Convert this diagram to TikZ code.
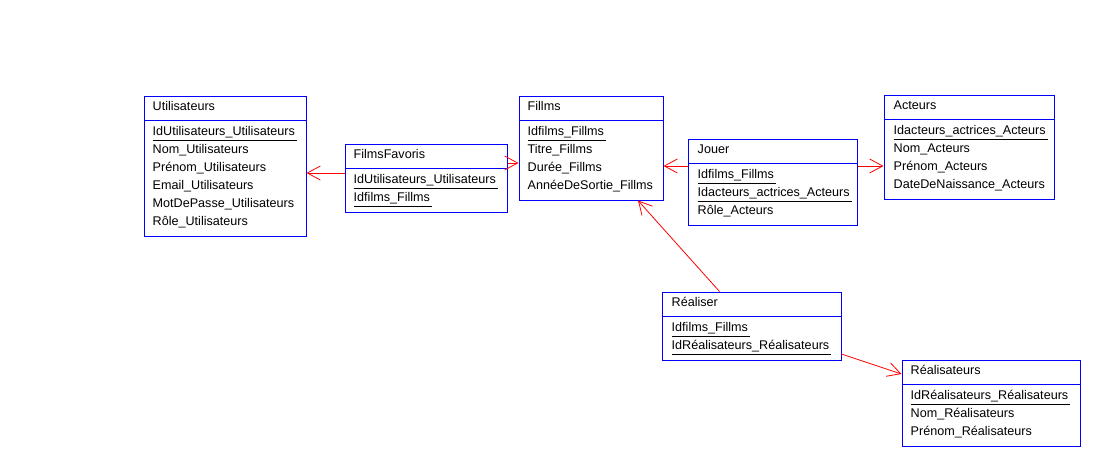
\documentclass[tikz,border=0pt]{standalone}
\usepackage{fontspec}
\setmainfont{Liberation Sans}
\usetikzlibrary{arrows.meta}
\definecolor{bleu}{HTML}{0000FF}
\definecolor{rouge}{HTML}{FF0000}
% cle primaire soulignee
\newcommand\cle[1]{\setbox0\hbox{#1}\rlap{\rule[-5pt]{\dimexpr\wd0+2pt\relax}{0.8pt}}\box0}
\tikzset{
  entite/.style={draw, color=bleu, line width=1pt, anchor=north west, inner sep=0pt},
  separ/.style={draw=bleu, line width=1pt},
  titre/.style={anchor=base west, inner sep=0pt, font=\fontsize{12.6}{15}\selectfont},
  attribut/.style={anchor=base west, inner sep=0pt, font=\fontsize{12.6}{15}\selectfont},
  lien/.style={-{Straight Barb[length=13pt,width=14pt]}, draw=rouge, line width=0.8pt},
}
\begin{document}
\begin{tikzpicture}[x=1pt, y=-1pt]
  \useasboundingbox[fill=white] (0,0) rectangle (1109,475);

  % Utilisateurs
  \node[entite, minimum width=162pt, minimum height=140pt] (util) at (143.5,95.5) {};
  \draw[separ] ([yshift=-25pt]util.north west) -- ([yshift=-25pt]util.north east);
  \node[titre] (util-titre) at ([xshift=9pt,yshift=-15pt]util.north west) {Utilisateurs};
  \foreach \a [count=\i] in {\cle{IdUtilisateurs\_Utilisateurs}, Nom\_Utilisateurs,
      Prénom\_Utilisateurs, Email\_Utilisateurs, MotDePasse\_Utilisateurs, Rôle\_Utilisateurs}
    \node[attribut] (util-\i) at ([xshift=9pt,yshift=-22pt-18pt*\i]util.north west) {\a};

  % FilmsFavoris
  \node[entite, minimum width=162pt, minimum height=68pt] (ff) at (344.5,143.5) {};
  \draw[separ] ([yshift=-25pt]ff.north west) -- ([yshift=-25pt]ff.north east);
  \node[titre] (ff-titre) at ([xshift=9pt,yshift=-15pt]ff.north west) {FilmsFavoris};
  \foreach \a [count=\i] in {\cle{IdUtilisateurs\_Utilisateurs}, \cle{Idfilms\_Fillms}}
    \node[attribut] (ff-\i) at ([xshift=9pt,yshift=-22pt-18pt*\i]ff.north west) {\a};

  % Fillms
  \node[entite, minimum width=144pt, minimum height=104pt] (films) at (518.5,95.5) {};
  \draw[separ] ([yshift=-25pt]films.north west) -- ([yshift=-25pt]films.north east);
  \node[titre] (films-titre) at ([xshift=9pt,yshift=-15pt]films.north west) {Fillms};
  \foreach \a [count=\i] in {\cle{Idfilms\_Fillms}, Titre\_Fillms, Durée\_Fillms,
      AnnéeDeSortie\_Fillms}
    \node[attribut] (films-\i) at ([xshift=9pt,yshift=-22pt-18pt*\i]films.north west) {\a};

  % Jouer
  \node[entite, minimum width=169pt, minimum height=86pt] (jouer) at (687.5,138.5) {};
  \draw[separ] ([yshift=-25pt]jouer.north west) -- ([yshift=-25pt]jouer.north east);
  \node[titre] (jouer-titre) at ([xshift=10pt,yshift=-15pt]jouer.north west) {Jouer};
  \foreach \a [count=\i] in {\cle{Idfilms\_Fillms}, \cle{Idacteurs\_actrices\_Acteurs},
      Rôle\_Acteurs}
    \node[attribut] (jouer-\i) at ([xshift=10pt,yshift=-22pt-18pt*\i]jouer.north west) {\a};

  % Acteurs
  \node[entite, minimum width=170pt, minimum height=104pt] (acteurs) at (883.5,94.5) {};
  \draw[separ] ([yshift=-25pt]acteurs.north west) -- ([yshift=-25pt]acteurs.north east);
  \node[titre] (acteurs-titre) at ([xshift=10pt,yshift=-15pt]acteurs.north west) {Acteurs};
  \foreach \a [count=\i] in {\cle{Idacteurs\_actrices\_Acteurs}, Nom\_Acteurs,
      Prénom\_Acteurs, DateDeNaissance\_Acteurs}
    \node[attribut] (acteurs-\i) at ([xshift=10pt,yshift=-22pt-18pt*\i]acteurs.north west) {\a};

  % Realiser
  \node[entite, minimum width=179pt, minimum height=68pt] (real) at (661.5,291.5) {};
  \draw[separ] ([yshift=-25pt]real.north west) -- ([yshift=-25pt]real.north east);
  \node[titre] (real-titre) at ([xshift=10pt,yshift=-15pt]real.north west) {Réaliser};
  \foreach \a [count=\i] in {\cle{Idfilms\_Fillms}, \cle{IdRéalisateurs\_Réalisateurs}}
    \node[attribut] (real-\i) at ([xshift=10pt,yshift=-22pt-18pt*\i]real.north west) {\a};

  % Realisateurs
  \node[entite, minimum width=178pt, minimum height=86pt] (reals) at (901.5,359.5) {};
  \draw[separ] ([yshift=-25pt]reals.north west) -- ([yshift=-25pt]reals.north east);
  \node[titre] (reals-titre) at ([xshift=9pt,yshift=-15pt]reals.north west) {Réalisateurs};
  \foreach \a [count=\i] in {\cle{IdRéalisateurs\_Réalisateurs}, Nom\_Réalisateurs,
      Prénom\_Réalisateurs}
    \node[attribut] (reals-\i) at ([xshift=9pt,yshift=-22pt-18pt*\i]reals.north west) {\a};

  % liens
  \draw[lien] ([yshift=5pt]ff.west) -- ([yshift=5pt]ff.west -| util.east);
  \draw[lien] ([yshift=15pt]ff.east) -- ([yshift=15pt]ff.east -| films.west);
  \draw[lien] ([yshift=16pt]jouer.west) -- ([yshift=16pt]jouer.west -| films.east);
  \draw[lien] ([yshift=16pt]jouer.east) -- ([yshift=16pt]jouer.east -| acteurs.west);
  \draw[lien] ([xshift=-32pt]real.north) -- ([xshift=47pt]films.south);
  \draw[lien] ([yshift=-28pt]real.east) -- ([yshift=29pt]reals.west);
\end{tikzpicture}
\end{document}
